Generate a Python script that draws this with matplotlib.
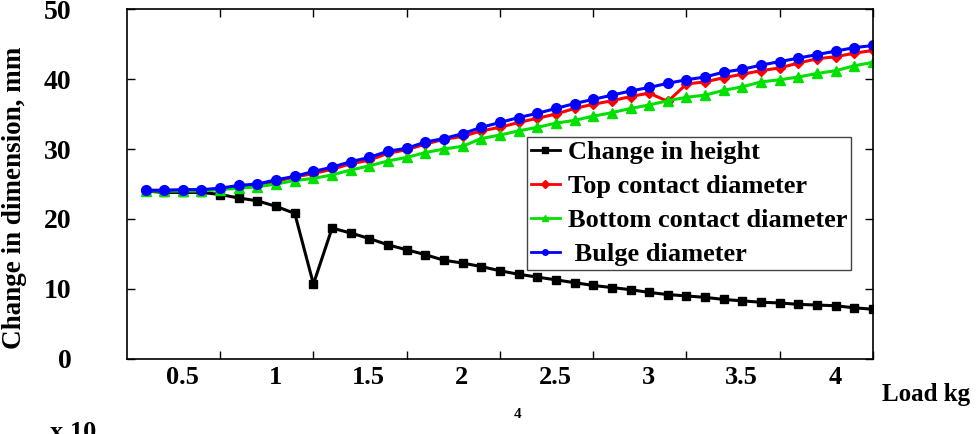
import numpy as np
import matplotlib
matplotlib.use("Agg")
import matplotlib.pyplot as plt
from matplotlib.transforms import ScaledTranslation

# load in units of 10^4 kg
load = [round(0.1 * i, 1) for i in range(1, 41)]

height = [24.0, 23.8, 23.8, 23.8, 23.5, 23.0, 22.6, 21.8, 20.8, 10.7,
          18.7, 18.0, 17.2, 16.3, 15.6, 14.9, 14.1, 13.7, 13.2, 12.6,
          12.1, 11.7, 11.3, 10.9, 10.5, 10.2, 9.9, 9.5, 9.2, 9.0,
          8.8, 8.5, 8.3, 8.1, 8.0, 7.8, 7.7, 7.6, 7.3, 7.1]

top_dia = [24.1, 24.1, 24.1, 24.1, 24.3, 24.6, 24.8, 25.4, 26.0, 26.5,
           27.1, 27.9, 28.4, 29.4, 29.9, 30.7, 31.4, 31.8, 32.6, 33.1,
           33.8, 34.4, 35.0, 35.8, 36.4, 36.9, 37.5, 38.0, 36.8, 39.3,
           39.6, 40.2, 40.7, 41.2, 41.6, 42.3, 42.9, 43.2, 43.7, 44.1]

bottom_dia = [24.0, 24.0, 24.0, 24.0, 24.2, 24.4, 24.6, 25.0, 25.5, 25.8,
              26.3, 27.0, 27.6, 28.3, 28.8, 29.5, 30.0, 30.4, 31.5, 32.0,
              32.6, 33.1, 33.7, 34.1, 34.7, 35.2, 35.8, 36.3, 36.9, 37.4,
              37.7, 38.4, 38.9, 39.6, 39.9, 40.3, 40.8, 41.2, 41.9, 42.4]

bulge_dia = [24.1, 24.1, 24.2, 24.2, 24.4, 24.8, 25.0, 25.6, 26.1, 26.8,
             27.4, 28.2, 28.8, 29.7, 30.1, 31.0, 31.5, 32.2, 33.1, 33.8,
             34.5, 35.1, 35.8, 36.5, 37.1, 37.7, 38.3, 38.8, 39.4, 39.9,
             40.3, 41.0, 41.4, 42.0, 42.5, 43.0, 43.5, 44.0, 44.5, 44.8]

xticks = [0.5, 1, 1.5, 2, 2.5, 3, 3.5, 4]
xtick_labels = ["0.5", "1", "1.5", "2", "2.5", "3", "3.5", "4"]
yticks = [0, 10, 20, 30, 40, 50]

plt.rcParams["font.family"] = ["Liberation Serif", "DejaVu Serif"]
plt.rcParams["font.weight"] = "bold"

fig = plt.figure(figsize=(9.76, 4.34), dpi=100)
ax = fig.add_axes([0.130, 0.173, 0.7645, 0.806])

ax.plot(load, height, color="black", lw=2.2, marker="s", ms=6,
        mfc="black", mec="black", label="Change in height")
ax.plot(load, top_dia, color="red", lw=2.2, marker="D", ms=5,
        label="Top contact diameter")
ax.plot(load, bottom_dia, color="#00e000", lw=2.2, marker="^", ms=7,
        label="Bottom contact diameter")
ax.plot(load, bulge_dia, color="blue", lw=2.2, marker="o", ms=7,
        label=" Bulge diameter")

ax.set_xlim(0, 4.0)
ax.set_ylim(0, 50)
ax.set_xticks(xticks)
ax.set_xticklabels(xtick_labels, fontsize=19, fontweight="bold")
ax.set_yticks(yticks)
ax.set_yticklabels([str(v) for v in yticks], fontsize=20, fontweight="bold")
ax.tick_params(axis="both", direction="in", length=6, width=1,
               top=True, right=True)
ax.tick_params(axis="y", pad=40)
ax.tick_params(axis="x", pad=5)

# x tick labels sit a bit left of their ticks in the original
shift = ScaledTranslation(-0.38, 0, fig.dpi_scale_trans)
for lbl in ax.get_xticklabels():
    lbl.set_transform(lbl.get_transform() + shift)

for s in ax.spines.values():
    s.set_linewidth(1.2)
    s.set_color("black")

leg = ax.legend(loc="upper left", bbox_to_anchor=(0.536, 0.635),
                prop={"size": 19, "weight": "bold"}, fancybox=False,
                edgecolor="#444444", framealpha=1, borderpad=0.15,
                labelspacing=0.4, handlelength=1.1, handletextpad=0.3,
                borderaxespad=0)
leg.get_frame().set_linewidth(1.0)
for h in leg.legend_handles:
    h.set_markersize(4)
    h.set_linewidth(2)

fig.text(15 / 976, 1 - 198 / 434, "Change in dimension, mm", rotation=90,
         ha="center", va="center", fontsize=19.5, fontweight="bold")
fig.text(882 / 976, 1 - 395 / 434, "Load kg", ha="left", va="center",
         fontsize=18, fontweight="bold")
fig.text(518 / 976, 1 - 415 / 434, "4", ha="center", va="center",
         fontsize=11, fontweight="bold")
fig.text(50 / 976, 1 - 421 / 434, "x 10", ha="left", va="top",
         fontsize=19, fontweight="bold")

fig.savefig("out.png", dpi=100)
